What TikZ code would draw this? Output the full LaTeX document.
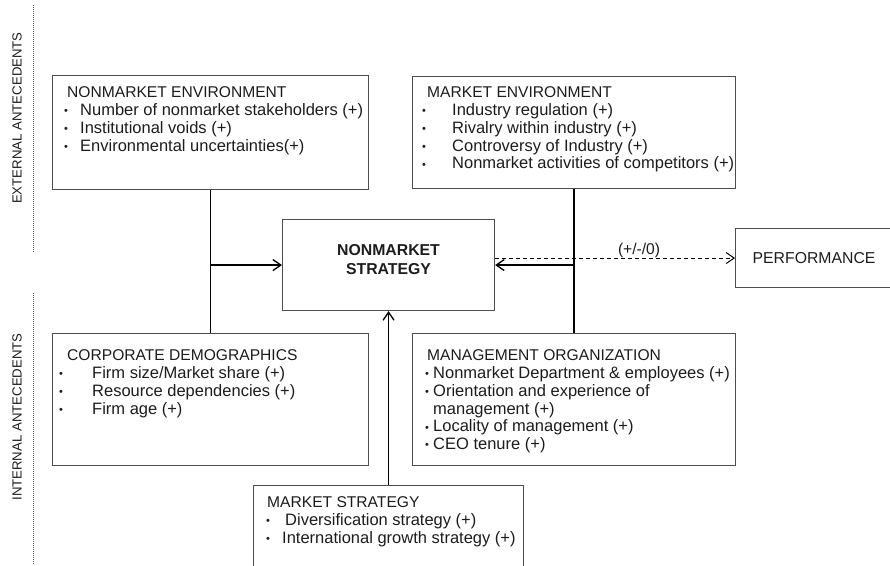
\documentclass[tikz,border=0pt]{standalone}
\usepackage{fontspec}
\setmainfont{Liberation Sans}
\usetikzlibrary{arrows.meta, positioning}

\definecolor{boxline}{HTML}{4D4D4D}
\definecolor{inktext}{HTML}{1C1C1C}
\newcommand{\ttl}{\fontsize{15.6}{17.8}\selectfont}
\newcommand{\itm}[2]{\makebox[0pt][l]{\hspace*{#1pt}\raisebox{0.8pt}{\fontsize{11}{11}\selectfont\textbullet}}\hspace*{#2pt}}
\newcommand{\boxlist}[1]{\begin{minipage}[t]{330pt}\fontsize{16.5}{17.8}\selectfont#1\end{minipage}}

\begin{document}
\begin{tikzpicture}[x=1pt,y=-1pt,>={Straight Barb[length=8pt,width=11pt]},
  frame/.style={draw=boxline,line width=1.1pt,inner sep=0pt,anchor=north west,text=inktext},
  listtext/.style={anchor=base west,inner sep=0pt,text=inktext},
  link/.style={line width=1.3pt,color=black},
  sideline/.style={line width=0.7pt,color=black!65,dash pattern=on 0.8pt off 1.2pt},
  sidelabel/.style={rotate=90,text=inktext,font=\fontsize{13.2}{15}\selectfont}]
\useasboundingbox (0,0) rectangle (890,565);
%side labels
\draw[sideline] (33,5) -- (33,253);
\draw[sideline] (33,293) -- (33,565);
\node[sidelabel] (extlab) at (17,118) {EXTERNAL ANTECEDENTS};
\node[sidelabel] (intlab) at (17,417) {INTERNAL ANTECEDENTS};
%upper boxes
\node[frame,minimum width=316,minimum height=114] (nonenv) at (52,75) {};
\node[listtext] (nonenvtxt) at (67,97.7) {\boxlist{{\ttl NONMARKET ENVIRONMENT}\\
  \itm{-3}{13}Number of nonmarket stakeholders (+)\\
  \itm{-3}{13}Institutional voids (+)\\
  \itm{-3}{13}Environmental uncertainties(+)}};
\node[frame,minimum width=323,minimum height=112] (mktenv) at (412,76) {};
\node[listtext] (mktenvtxt) at (427,97.7) {\boxlist{{\ttl MARKET ENVIRONMENT}\\
  \itm{-5}{25}Industry regulation (+)\\
  \itm{-5}{25}Rivalry within industry (+)\\
  \itm{-5}{25}Controversy of Industry (+)\\
  \itm{-5}{25}Nonmarket activities of competitors (+)}};
%middle boxes
\node[frame,minimum width=212,minimum height=91] (strat) at (282,219) {};
\node[inner sep=0pt,align=center,text=inktext,font=\bfseries\fontsize{15.8}{19}\selectfont] (strattxt) at ([yshift=5pt]strat.center) {NONMARKET\\STRATEGY};
\node[frame,minimum width=157,minimum height=59,font=\fontsize{15.8}{18}\selectfont] (perf) at (735,228) {PERFORMANCE};
%lower boxes
\node[frame,minimum width=316,minimum height=132] (corpdem) at (52,333) {};
\node[listtext] (corpdemtxt) at (67,360.7) {\boxlist{{\ttl CORPORATE DEMOGRAPHICS}\\
  \itm{-8}{25}Firm size/Market share (+)\\
  \itm{-8}{25}Resource dependencies (+)\\
  \itm{-8}{25}Firm age (+)}};
\node[frame,minimum width=323,minimum height=132] (mgmt) at (412,333) {};
\node[listtext] (mgmttxt) at (427,360.7) {\boxlist{{\ttl MANAGEMENT ORGANIZATION}\\
  \itm{-2}{6}Nonmarket Department \& employees (+)\\
  \itm{-2}{6}Orientation and experience of\\
  \hspace*{6pt}management (+)\\
  \itm{-2}{6}Locality of management (+)\\
  \itm{-2}{6}CEO tenure (+)}};
\node[frame,minimum width=270,minimum height=83] (mstrat) at (253,485) {};
\node[listtext] (mstrattxt) at (267,507.7) {\boxlist{{\ttl MARKET STRATEGY}\\
  \itm{-1}{18}Diversification strategy (+)\\
  \itm{-1}{15}International growth strategy (+)}};
%connectors into the strategy box
\draw[link] (nonenv.south) -- (corpdem.north);
\draw[link,->] (nonenv.south |- strat.west) -- (strat.west);
\draw[link] (mktenv.south) -- (mgmt.north);
\draw[link,->] (mktenv.south |- strat.east) -- (strat.east);
\draw[link,->] (mstrat.north) -- (strat.south);
%dashed link to performance
\draw[link,line width=1pt,dash pattern=on 4pt off 3pt,->] (strat.east |- perf.west) -- node[pos=0.6,above,inner sep=0pt,text=inktext,font=\fontsize{15.6}{18}\selectfont] (perflab) {(+/-/0)} (perf.west);
\end{tikzpicture}
\end{document}
